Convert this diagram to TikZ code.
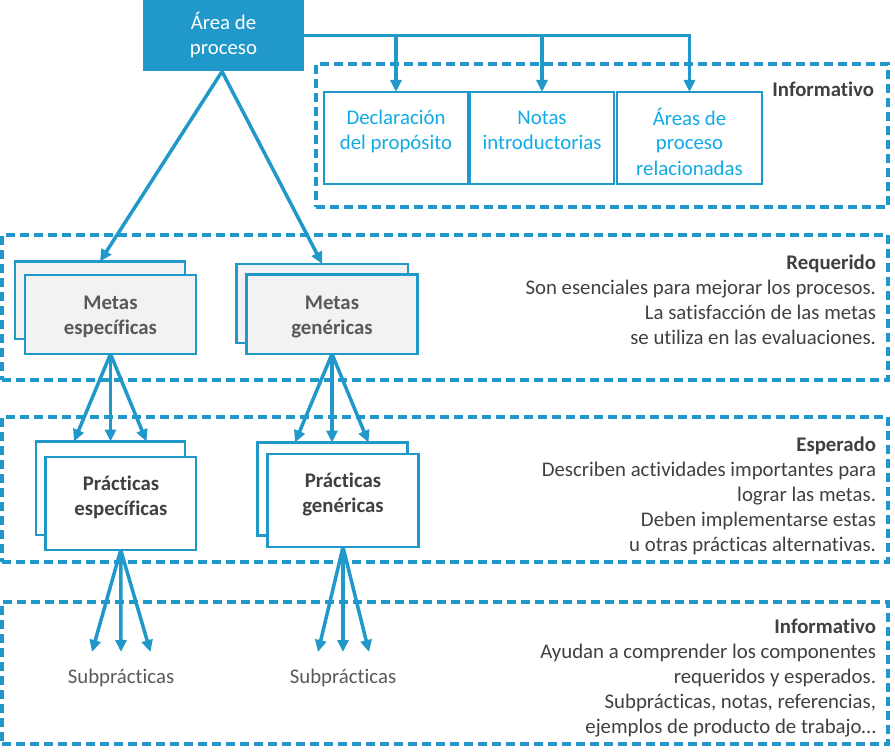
\documentclass[tikz,border=0pt]{standalone}
\usepackage{fontspec}
\setmainfont{Carlito}[Ligatures=NoCommon]
\usetikzlibrary{arrows.meta}
\definecolor{mblue}{RGB}{33,152,202}
\definecolor{tcyan}{RGB}{16,170,230}
\definecolor{dgray}{RGB}{64,64,64}
\definecolor{mgray}{RGB}{89,89,89}
\definecolor{lgray}{RGB}{242,242,242}
\begin{document}
\begin{tikzpicture}[x=1pt,y=-1pt,
  every node/.style={inner sep=0pt, outer sep=0pt},
  dashbox/.style={draw=mblue, line width=3.5pt, dash pattern=on 9pt off 5pt},
  solidbox/.style={draw=mblue, line width=2.5pt},
  conn/.style={draw=mblue, line width=3.5pt},
  arr/.style={conn, -{Triangle[length=12pt,width=11pt]}},
  txt/.style={anchor=north, align=center, font=\fontsize{20.8}{25}\selectfont},
  btxt/.style={txt, font=\fontsize{20.8}{25}\selectfont\bfseries},
  rtxt/.style={anchor=north east, align=right, font=\fontsize{20.8}{25}\selectfont, text=dgray},
]
\useasboundingbox (0,0) rectangle (895,752);

% dashed regions
\node[dashbox, minimum width=572pt, minimum height=143pt] (inf1) at (602,135.5) {};
\node[dashbox, minimum width=886pt, minimum height=145pt] (req) at (445,307.5) {};
\node[dashbox, minimum width=886pt, minimum height=145pt] (esp) at (445,489.5) {};
\node[dashbox, minimum width=886pt, minimum height=142pt] (inf2) at (445,673) {};

% top box
\node[fill=mblue, minimum width=161pt, minimum height=71.5pt] (ap) at (223.5,35.75) {};
\node[txt, text=white] (apt) at (223.5,12) {\strut Área de\\proceso};

% informative sub boxes
\node[solidbox, minimum width=144pt, minimum height=92pt] (dp) at (396,138) {};
\node[solidbox, minimum width=144pt, minimum height=92pt] (ni) at (542,138) {};
\node[solidbox, minimum width=145pt, minimum height=92pt] (ar) at (689.5,138) {};
\node[txt, text=tcyan] (dpt) at (396,107.5) {\strut Declaración\\del propósito};
\node[txt, text=tcyan] (nit) at (542,107.5) {\strut Notas\\introductorias};
\node[txt, text=tcyan] (art) at (689.5,107.5) {\strut Áreas de\\proceso\\relacionadas};
\node[rtxt, font=\fontsize{20.8}{25}\selectfont\bfseries] (inf1t) at (874,79.5) {\strut Informativo};

% metas
\node[solidbox, fill=lgray, minimum width=170pt, minimum height=77.5pt] (meb) at (100,300.25) {};
\node[solidbox, fill=lgray, minimum width=171pt, minimum height=79pt] (me) at (110.5,314.5) {};
\node[btxt, text=mgray] (met) at (110.5,291.5) {\strut Metas\\específicas};
\node[solidbox, fill=lgray, minimum width=171.5pt, minimum height=79pt] (mgb) at (322.25,303.5) {};
\node[solidbox, fill=lgray, minimum width=171pt, minimum height=79.5pt] (mg) at (332,314.25) {};
\node[btxt, text=mgray] (mgt) at (332,291.5) {\strut Metas\\genéricas};

% practicas
\node[solidbox, fill=white, minimum width=149pt, minimum height=93.5pt] (peb) at (110.5,488.25) {};
\node[solidbox, fill=white, minimum width=150.5pt, minimum height=93pt] (pe) at (120.75,503.5) {};
\node[btxt, text=dgray] (pet) at (121,472.5) {\strut Prácticas\\específicas};
\node[solidbox, fill=white, minimum width=150pt, minimum height=93pt] (pgb) at (332.5,489) {};
\node[solidbox, fill=white, minimum width=151pt, minimum height=93pt] (pg) at (343,500.5) {};
\node[btxt, text=dgray] (pgt) at (343,469.5) {\strut Prácticas\\genéricas};

% subpracticas
\node[txt, text=mgray] (s1) at (121,665.5) {\strut Subprácticas};
\node[txt, text=mgray] (s2) at (343,665.5) {\strut Subprácticas};

% right texts
\node[rtxt] (reqt) at (876,252) {\strut\textbf{Requerido}\\Son esenciales para mejorar los procesos.\\La satisfacción de las metas\\se utiliza en las evaluaciones.};
\node[rtxt] (espt) at (876,434) {\strut\textbf{Esperado}\\Describen actividades importantes para\\lograr las metas.\\Deben implementarse estas\\u otras prácticas alternativas.};
\node[rtxt] (inf2t) at (876,615.5) {\strut\textbf{Informativo}\\Ayudan a comprender los componentes\\requeridos y esperados.\\Subprácticas, notas, referencias,\\ejemplos de producto de trabajo\dots};

% connectors
\draw[arr] (ap.east) -| (ar.north);
\draw[arr] (dp.north |- ap.east) -- (dp.north);
\draw[arr] (ni.north |- ap.east) -- (ni.north);
\draw[arr] ([xshift=-1.5pt]ap.south) -- (meb.north);
\draw[arr] ([xshift=-1.5pt]ap.south) -- (mgb.north);

\draw[arr] (me.south) -- ([xshift=-36.5pt]peb.north);
\draw[arr] (me.south) -- (peb.north);
\draw[arr] (me.south) -- ([xshift=36pt]peb.north);
\draw[arr] (mg.south) -- ([xshift=-37.5pt]pgb.north);
\draw[arr] (mg.south) -- ([xshift=-0.5pt]pgb.north);
\draw[arr] (mg.south) -- ([xshift=36pt]pgb.north);

\coordinate (a1) at (92,652);
\coordinate (a2) at (121,652);
\coordinate (a3) at (150.5,652);
\coordinate (b1) at (318,652);
\coordinate (b2) at (343,652);
\coordinate (b3) at (369,652);
\draw[arr] (pe.south) -- (a1);
\draw[arr] (pe.south) -- (a2);
\draw[arr] (pe.south) -- (a3);
\draw[arr] (pg.south) -- (b1);
\draw[arr] (pg.south) -- (b2);
\draw[arr] (pg.south) -- (b3);
\end{tikzpicture}
\end{document}
